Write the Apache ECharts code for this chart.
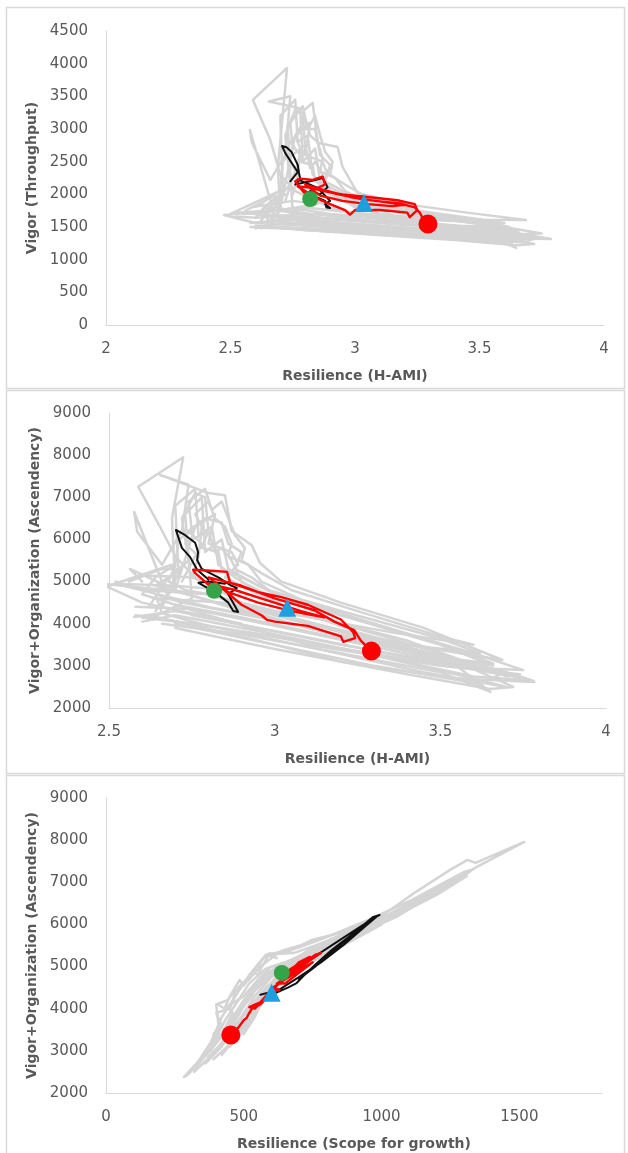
<!DOCTYPE html>
<html>
<head>
<meta charset="utf-8">
<script src="https://cdn.jsdelivr.net/npm/echarts@6/dist/echarts.min.js"></script>
<style>
html,body{margin:0;padding:0;background:#fff;}
#c{width:628px;height:1153px;}
</style>
</head>
<body>
<div id="c"></div>
<script>
// ---------- Panel 1: Resilience (H-AMI) vs Vigor (Throughput) ----------
const p1Gray = [
  [[2.64,1520],[2.70,1750],[2.69,2400],[2.727,3935],[2.59,3445],[2.66,2830],[2.70,2300],[2.76,2050],[2.90,1800],[3.10,1620],[3.35,1520],[3.60,1420],[3.787,1317],[3.55,1330],[3.20,1400],[2.90,1460],[2.62,1490]],
  [[2.68,1650],[2.578,2985],[2.586,2790],[2.66,2220],[2.72,2600],[2.74,3500],[2.654,3420],[2.80,3300],[2.83,3400],[2.85,2790],[2.93,2725],[2.95,2420],[3.01,2020],[3.20,1850],[3.45,1720],[3.687,1607],[3.40,1610],[3.05,1700],[2.80,1800],[2.474,1684],[2.60,1560],[2.90,1500]],
  [[2.62,1480],[2.75,1700],[2.73,3050],[2.78,3300],[2.79,2500],[2.84,2700],[2.86,2200],[2.95,2000],[3.20,1600],[3.50,1430],[3.647,1179],[3.60,1260],[3.30,1350],[3.00,1420],[2.70,1500]],
  [[2.70,1800],[2.76,2900],[2.82,3100],[2.80,2600],[2.87,2500],[2.89,2300],[2.85,2100],[2.95,1900],[3.10,1700],[3.40,1500],[3.70,1300],[3.74,1330],[3.50,1360],[3.10,1460],[2.80,1580],[2.60,1700]],
  [[2.66,1600],[2.71,2100],[2.70,3200],[2.76,3450],[2.77,2800],[2.81,2900],[2.83,2300],[2.88,2100],[3.00,1800],[3.25,1560],[3.55,1380],[3.72,1240],[3.65,1220],[3.40,1300],[3.00,1400],[2.70,1480]],
  [[2.72,1900],[2.78,2600],[2.74,2800],[2.79,3000],[2.84,3000],[2.86,2600],[2.90,2450],[2.88,2200],[2.93,2100],[3.00,1900],[3.20,1700],[3.50,1550],[3.66,1450],[3.50,1480],[3.20,1530],[2.90,1620],[2.70,1750],[2.55,1700]],
  [[2.75,2000],[2.77,2300],[2.73,2550],[2.80,2750],[2.82,2400],[2.84,2500],[2.87,2300],[2.90,2050],[3.00,1870],[3.30,1680],[3.60,1500],[3.75,1400],[3.60,1380],[3.20,1480],[2.95,1560],[2.70,1640]],
  [[2.58,1500],[2.75,1480],[3.00,1430],[3.30,1380],[3.60,1300],[3.70,1260],[3.45,1320],[3.10,1400],[2.80,1450],[2.66,1520],[2.64,1700],[2.72,1650],[2.95,1560],[3.25,1480],[3.55,1420],[3.68,1350],[3.40,1390],[3.05,1470],[2.75,1540]],
  [[2.62,1580],[2.68,1900],[2.74,2150],[2.72,2900],[2.76,3300],[2.79,3250],[2.80,2700],[2.78,2500],[2.83,2450],[2.84,2200],[2.90,2050],[2.98,1950],[3.20,1760],[3.50,1600],[3.62,1500],[3.40,1520],[3.10,1580],[2.85,1640],[2.65,1600]],
  [[2.69,1700],[2.71,2500],[2.75,2700],[2.74,3100],[2.79,3350],[2.81,3000],[2.84,3200],[2.86,2900],[2.88,2650],[2.91,2500],[2.90,2300],[2.96,2150],[3.05,1950],[3.25,1750],[3.50,1620],[3.60,1560],[3.35,1600],[3.00,1680],[2.80,1700],[2.60,1640],[2.52,1660]],
  [[2.60,1640],[2.64,1820],[2.70,2000],[2.68,1820],[2.73,1750],[2.80,1760],[2.90,1700],[3.05,1640],[3.30,1560],[3.55,1470],[3.72,1360],[3.78,1320],[3.60,1330],[3.30,1420],[3.00,1500],[2.70,1560],[2.60,1480]],
  [[2.77,2300],[2.78,2700],[2.76,2900],[2.80,3150],[2.82,2900],[2.85,2800],[2.87,2550],[2.86,2350],[2.92,2250],[2.96,2050],[3.10,1800],[3.30,1650],[3.55,1520],[3.66,1410],[3.50,1420],[3.20,1480],[2.90,1530],[2.70,1580]],
  [[2.66,1500],[2.90,1470],[3.20,1420],[3.50,1350],[3.64,1200],[3.62,1270],[3.70,1330],[3.40,1380],[3.10,1430],[2.80,1480],[2.60,1520]],
  [[2.50,1700],[2.69,2036],[2.62,1850],[2.59,1806],[2.75,1900],[2.85,1850],[2.70,1760],[2.52,1720],[2.80,1650],[3.00,1600]],
  [[2.56,1750],[2.66,1950],[2.72,2000],[2.64,1780],[2.78,1720],[2.92,1660],[3.15,1560],[3.40,1470],[3.60,1380],[3.30,1450],[3.00,1540],[2.75,1620],[2.58,1560]]
];
const p1Black = [[2.74,2200],[2.77,2340],[2.76,2400],[2.72,2630],[2.707,2740],[2.725,2720],[2.745,2650],[2.77,2450],[2.775,2330],[2.78,2230],[2.76,2150],[2.82,2200],[2.87,2250],[2.89,2110],[2.86,2000],[2.82,2050],[2.80,2000],[2.85,1950],[2.88,1900],[2.885,1800],[2.90,1790],[2.88,1850],[2.90,1900],[2.85,2100],[2.77,2230]];
const p1Red = [[2.82,1930],[2.79,2050],[2.76,2200],[2.78,2240],[2.83,2220],[2.87,2270],[2.88,2150],[2.84,2080],[2.90,2030],[2.95,2000],[3.05,1960],[3.17,1910],[3.24,1850],[3.25,1760],[3.22,1650],[3.21,1720],[3.10,1760],[3.00,1760],[2.98,1690],[2.96,1760],[2.90,1850],[2.84,1950],[2.80,2050],[2.77,2120],[2.83,2100],[2.92,2010],[3.02,1930],[3.12,1880],[3.20,1840],[3.15,1820],[3.05,1850],[2.95,1900],[2.86,1980],[2.80,2150],[2.88,2060],[2.98,1960],[3.08,1900],[3.18,1860],[3.24,1800],[3.26,1720],[3.27,1650],[3.293,1546]];
const p1Start = [2.82,1929];
const p1Mid = [3.036,1868];
const p1End = [3.293,1546];

// ---------- Panel 2: Resilience (H-AMI) vs Vigor+Organization (Ascendency) ----------
const p2Gray = [
  [[2.64,4300],[2.70,4900],[2.69,6500],[2.724,7950],[2.588,7250],[2.654,6300],[2.70,5600],[2.76,5100],[2.90,4500],[3.10,4000],[3.35,3500],[3.60,3000],[3.784,2617],[3.55,2700],[3.20,3100],[2.90,3700],[2.62,4200]],
  [[2.68,4600],[2.576,6650],[2.585,6180],[2.66,5400],[2.72,6200],[2.74,7300],[2.654,7530],[2.80,7100],[2.85,7050],[2.87,6200],[2.93,5870],[2.956,5440],[3.02,5000],[3.20,4500],[3.45,3900],[3.687,3139],[3.40,3500],[3.05,4100],[2.80,4700],[2.474,4950],[2.60,4500],[2.90,4000]],
  [[2.62,4100],[2.75,4600],[2.73,6600],[2.78,7000],[2.79,5700],[2.84,6000],[2.86,5300],[2.95,4900],[3.20,4000],[3.50,3300],[3.651,2380],[3.60,2600],[3.30,3000],[3.00,3500],[2.70,4000]],
  [[2.70,4800],[2.76,6300],[2.82,6600],[2.80,5900],[2.87,5700],[2.89,5400],[2.85,5100],[2.95,4700],[3.10,4200],[3.40,3600],[3.70,2750],[3.74,2800],[3.50,3000],[3.10,3500],[2.80,4200],[2.60,4700]],
  [[2.66,4400],[2.71,5200],[2.70,6800],[2.76,7200],[2.77,6100],[2.81,6300],[2.83,5400],[2.88,5100],[3.00,4500],[3.25,3800],[3.55,3100],[3.72,2500],[3.65,2450],[3.40,2800],[3.00,3400],[2.70,3900]],
  [[2.72,5000],[2.78,5900],[2.74,6200],[2.79,6500],[2.84,6400],[2.86,5900],[2.90,5700],[2.88,5300],[2.93,5100],[3.00,4700],[3.20,4200],[3.50,3500],[3.66,3000],[3.50,3200],[3.20,3700],[2.90,4300],[2.70,4800],[2.563,5300],[2.60,5000]],
  [[2.75,5100],[2.77,5600],[2.73,5900],[2.80,6200],[2.82,5700],[2.84,5800],[2.87,5500],[2.90,5000],[3.00,4600],[3.30,4000],[3.60,3300],[3.75,2900],[3.60,2950],[3.20,3500],[2.95,3900],[2.70,4300],[2.576,4160]],
  [[2.58,4200],[2.75,4000],[3.00,3700],[3.30,3250],[3.60,2700],[3.70,2500],[3.45,2850],[3.10,3450],[2.80,3950],[2.66,4250],[2.64,4700],[2.72,4500],[2.95,4150],[3.25,3650],[3.55,3100],[3.68,2800],[3.40,3200],[3.05,3750],[2.75,4200]],
  [[2.62,4400],[2.68,5100],[2.74,5500],[2.72,6500],[2.76,7100],[2.79,7000],[2.80,6200],[2.78,5800],[2.83,5700],[2.84,5300],[2.90,5100],[2.98,4800],[3.20,4300],[3.50,3650],[3.62,3300],[3.40,3500],[3.10,4000],[2.85,4500],[2.65,4600]],
  [[2.69,4800],[2.71,6000],[2.75,6200],[2.74,6900],[2.79,7200],[2.81,6700],[2.84,6900],[2.86,6500],[2.88,6100],[2.91,5800],[2.90,5500],[2.96,5200],[3.05,4800],[3.25,4300],[3.50,3700],[3.60,3500],[3.35,3800],[3.00,4300],[2.80,4700],[2.60,4800],[2.52,5000]],
  [[2.60,4700],[2.64,5100],[2.70,5400],[2.68,5000],[2.73,4800],[2.80,4700],[2.90,4450],[3.05,4150],[3.30,3650],[3.55,3150],[3.72,2800],[3.78,2650],[3.60,2750],[3.30,3250],[3.00,3750],[2.70,4200],[2.60,4050]],
  [[2.77,5600],[2.78,6300],[2.76,6600],[2.80,6900],[2.82,6500],[2.85,6300],[2.87,5900],[2.86,5600],[2.92,5400],[2.96,5000],[3.10,4500],[3.30,4000],[3.55,3400],[3.66,3050],[3.50,3200],[3.20,3650],[2.90,4150],[2.70,4450]],
  [[2.66,4000],[2.90,3750],[3.20,3300],[3.50,2850],[3.64,2420],[3.62,2600],[3.70,2850],[3.40,3150],[3.10,3550],[2.80,3950],[2.60,4150]],
  [[2.50,4900],[2.69,5400],[2.62,5200],[2.59,5150],[2.75,5100],[2.85,4800],[2.70,4900],[2.52,4950],[2.80,4400],[3.00,4100]],
  [[2.56,5000],[2.66,5300],[2.72,5300],[2.64,4900],[2.78,4600],[2.92,4300],[3.15,3800],[3.40,3350],[3.60,2950],[3.30,3450],[3.00,3950],[2.75,4350],[2.58,4400]]
];
const p2Black = [[2.80,5050],[2.766,5280],[2.745,5580],[2.72,5800],[2.702,6224],[2.73,6100],[2.76,5920],[2.769,5700],[2.766,5510],[2.78,5300],[2.83,5100],[2.87,4900],[2.886,4850],[2.86,4700],[2.875,4490],[2.89,4280],[2.875,4300],[2.86,4500],[2.82,4750],[2.77,4970],[2.80,5000],[2.85,4950]];
const p2Red = [[2.82,4780],[2.79,5000],[2.76,5200],[2.754,5280],[2.82,5250],[2.856,5230],[2.866,4970],[2.95,4750],[3.02,4630],[3.10,4450],[3.20,4100],[3.237,3800],[3.243,3660],[3.207,3570],[3.20,3700],[3.10,3950],[3.00,4050],[2.977,4090],[2.96,4200],[2.90,4450],[2.84,4850],[2.80,4950],[2.88,4800],[2.98,4550],[3.08,4300],[3.15,4150],[3.05,4300],[2.95,4500],[2.86,4750],[2.80,5100],[2.90,4900],[3.00,4600],[3.12,4320],[3.18,4050],[3.24,3850],[3.26,3600],[3.292,3350]];
const p2Start = [2.817,4780];
const p2Mid = [3.038,4380];
const p2End = [3.292,3350];

// ---------- Panel 3: Resilience (Scope for growth) vs Vigor+Organization (Ascendency) ----------
const p3Gray = [
  [[283,2380],[330,2700],[380,3200],[420,3800],[470,4300],[520,4800],[570,5200],[650,5400],[760,5600],[880,5900],[1000,6200],[1120,6750],[1250,7300],[1312,7530],[1341,7460],[1518,7956],[1344,7360],[1200,6800],[1050,6300],[900,5900],[750,5450],[620,4900],[520,4300],[460,3600],[400,3000],[320,2500]],
  [[300,2450],[360,2900],[410,3500],[400,4100],[440,4200],[480,4500],[540,4900],[580,5280],[640,5350],[700,5450],[800,5700],[950,6100],[1100,6550],[1200,6900],[1300,7250],[1330,7300],[1150,6600],[1000,6150],[850,5700],[720,5200],[600,4600],[520,3900],[470,3300],[420,2900]],
  [[350,2800],[400,3300],[430,3700],[470,4100],[520,4600],[580,4950],[650,5100],[750,5350],[850,5650],[950,5950],[1050,6300],[1100,6450],[1000,6050],[900,5700],[800,5350],[700,5000],[620,4600],[560,4100],[500,3500],[450,3100]],
  [[380,3000],[420,3400],[460,3900],[440,4050],[500,4300],[560,4750],[600,5000],[700,5200],[820,5550],[960,6000],[1080,6400],[1180,6700],[1050,6250],[920,5850],[800,5400],[680,4950],[580,4400],[540,3800],[500,3400]],
  [[420,3200],[470,3600],[520,4000],[580,4500],[640,4850],[720,5100],[800,5350],[900,5700],[1000,6000],[960,5850],[860,5500],[760,5150],[660,4750],[580,4250],[520,3700],[480,3300]],
  [[290,2400],[340,2750],[390,3100],[440,3500],[480,3900],[530,4300],[560,4700],[620,5000],[700,5250],[800,5550],[900,5850],[1000,6150],[1100,6500],[1200,6850],[1280,7150],[1180,6750],[1060,6350],[940,5950],[820,5550],[700,5150],[600,4750],[540,4300],[500,3900],[460,3500],[420,3100],[360,2700]],
  [[320,2550],[370,2950],[410,3300],[460,3700],[500,4100],[540,4450],[590,4800],[660,5050],[740,5300],[840,5600],[940,5900],[1040,6200],[1140,6600],[1230,6950],[1120,6500],[1010,6100],[890,5750],[780,5400],[680,5050],[610,4700],[570,4300],[530,3900],[490,3500],[440,3100],[390,2800]],
  [[410,4088],[430,4000],[450,4300],[485,4681],[500,4550],[532,4871],[550,4800],[594,5322],[620,5200],[587,5275],[660,5350],[746,5630],[850,5800],[980,6150]],
  [[390,3400],[420,3600],[400,3900],[450,4000],[470,4400],[520,4700],[560,5000],[620,5300],[680,5320],[760,5500],[880,5800],[1000,6100],[1140,6550],[1250,6950],[1310,7150],[1200,6700],[1080,6300],[960,5900],[850,5550],[740,5200],[640,4800],[580,4400],[540,4000],[500,3600]],
  [[300,2500],[350,2850],[400,3250],[450,3650],[490,4000],[520,4350],[550,4650],[600,4900],[680,5150],[780,5450],[880,5750],[990,6050],[1090,6400],[1170,6650],[1060,6200],[940,5850],[830,5500],[720,5150],[630,4800],[570,4400],[520,4000],[480,3650],[430,3250],[370,2850]],
  [[430,3500],[460,3800],[500,4200],[540,4550],[600,4850],[670,5050],[760,5300],[860,5600],[960,5950],[1060,6250],[1160,6600],[1260,7000],[1320,7250],[1220,6850],[1120,6450],[1020,6100],[910,5750],[800,5400],[700,5100],[620,4750],[560,4350],[510,3950],[470,3550]]
];
const p3Black = [[560,4330],[600,4400],[640,4700],[700,4950],[760,5250],[830,5550],[900,5850],[960,6100],[993,6224],[970,6180],[900,5800],[820,5400],[760,5050],[720,4800],[690,4600],[660,4500],[600,4330],[640,4500],[700,4750],[780,5100],[860,5500],[940,5950],[985,6200],[920,5900],[840,5450],[760,5000],[700,4700]];
const p3Red = [[638,4850],[700,5000],[760,5280],[780,5320],[740,5150],[690,4900],[650,4750],[700,5100],[740,5230],[690,4950],[640,4700],[660,4900],[720,5150],[680,4850],[620,4600],[650,4600],[700,4850],[750,5100],[700,4900],[640,4650],[605,4500],[630,4450],[600,4400],[580,4300],[560,4150],[520,4040],[540,4000],[570,4200],[590,4300],[560,4100],[530,4000],[520,3900],[510,3780],[500,3730],[480,3550],[453,3376]];
const p3Start = [638,4850];
const p3Mid = [601,4380];
const p3End = [453,3376];

// ---------- axis labels ----------
const xNames = ['Resilience (H-AMI)','Resilience (H-AMI)','Resilience (Scope for growth)'];
const yNames = ['Vigor (Throughput)','Vigor+Organization (Ascendency)','Vigor+Organization (Ascendency)'];

const GRAY = '#d4d4d4', TXT = '#595959', AX = '#d9d9d9';
const grids = [
  {left:106, top:31, width:498, height:294},
  {left:109, top:413, width:497, height:295},
  {left:106, top:798, width:496, height:295}
];
const xRanges = [[2,4,0.5],[2.5,4,0.5],[0,1800,500]];
const yRanges = [[0,4500,500],[2000,9000,1000],[2000,9000,1000]];
const yGaps = [62,62,62];
const xGaps = [44,44,44];

function lineS(data, color, width, i, z){
  return {type:'line', xAxisIndex:i, yAxisIndex:i, data:data, symbol:'none', showSymbol:false,
    clip:true, silent:true, animation:false, z:z,
    lineStyle:{color:color, width:width, join:'round', cap:'round'}};
}
function markS(pt, symbol, size, color, i){
  return {type:'scatter', xAxisIndex:i, yAxisIndex:i, data:[pt], symbol:symbol, symbolSize:size,
    itemStyle:{color:color, opacity:1}, silent:true, animation:false, z:10};
}

const xAxes = [], yAxes = [], series = [];
for (let i=0;i<3;i++){
  const xr = xRanges[i], yr = yRanges[i];
  xAxes.push({type:'value', gridIndex:i, min:xr[0], max:xr[1], interval:xr[2],
    name:xNames[i], nameLocation:'middle', nameGap:xGaps[i],
    nameTextStyle:{color:TXT, fontFamily:'DejaVu Sans', fontSize:14, fontWeight:'bold'},
    axisLine:{show:true, lineStyle:{color:AX, width:1}}, axisTick:{show:false}, splitLine:{show:false},
    axisLabel:{color:TXT, fontFamily:'DejaVu Sans', fontSize:15, margin:17,
      formatter:function(v){ return (Math.abs(v/xr[2]-Math.round(v/xr[2]))<1e-6) ? String(v) : ''; }}});
  yAxes.push({type:'value', gridIndex:i, min:yr[0], max:yr[1], interval:yr[2],
    name:yNames[i], nameLocation:'middle', nameGap:yGaps[i], nameRotate:90,
    nameTextStyle:{color:TXT, fontFamily:'DejaVu Sans', fontSize:14, fontWeight:'bold'},
    axisLine:{show:true, lineStyle:{color:AX, width:1}}, axisTick:{show:false}, splitLine:{show:false},
    axisLabel:{color:TXT, fontFamily:'DejaVu Sans', fontSize:15, margin:18,
      formatter:function(v){ return String(v); }}});
}
const grays = [p1Gray,p2Gray,p3Gray], blacks=[p1Black,p2Black,p3Black], reds=[p1Red,p2Red,p3Red];
const starts=[p1Start,p2Start,p3Start], mids=[p1Mid,p2Mid,p3Mid], ends=[p1End,p2End,p3End];
for (let i=0;i<3;i++){
  grays[i].forEach(r=>series.push(lineS(r, GRAY, 2.5, i, 2)));
  series.push(lineS(blacks[i], '#111111', 2, i, 4));
  series.push(lineS(reds[i], '#ff0000', 2.4, i, 5));
  series.push(markS(starts[i], 'circle', 16, '#35a347', i));
  series.push(markS(mids[i], 'triangle', 18, '#1e9fe0', i));
  series.push(markS(ends[i], 'circle', 19, '#ff0000', i));
}
const frames = [[6,7,618,381],[6,390,618,383],[6,775,618,385]].map(f=>({
  type:'rect', shape:{x:f[0]+0.5,y:f[1]+0.5,width:f[2],height:f[3]}, silent:true,
  style:{fill:'none', stroke:'#d9d9d9', lineWidth:1.5}, z:-1}));

const chart = echarts.init(document.getElementById('c'), null, {renderer:'canvas'});
chart.setOption({backgroundColor:'#fff', animation:false, grid:grids, xAxis:xAxes, yAxis:yAxes,
  series:series, graphic:frames});
</script>
</body>
</html>
